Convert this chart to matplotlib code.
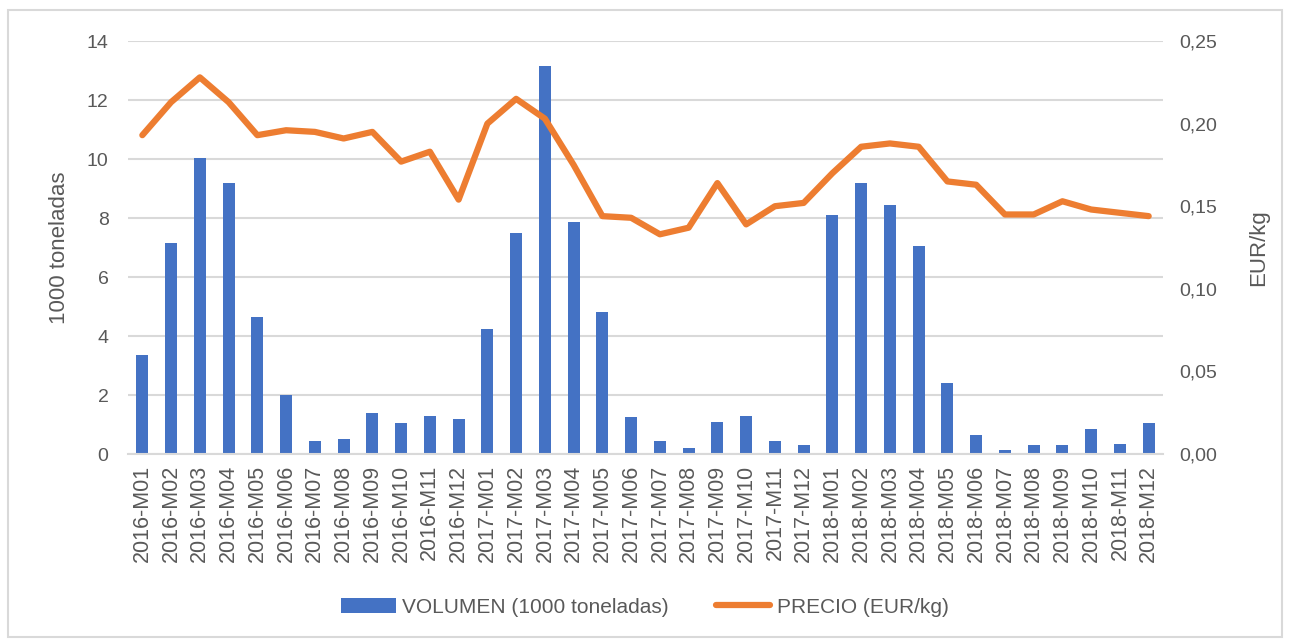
import matplotlib
matplotlib.use('Agg')
import matplotlib.pyplot as plt
from matplotlib.patches import Rectangle
from matplotlib.ticker import FuncFormatter

months = [f'{y}-M{m:02d}' for y in (2016, 2017, 2018) for m in range(1, 13)]

volumen = [3.35, 7.15, 10.05, 9.2, 4.65, 2.0, 0.45, 0.5, 1.4, 1.05, 1.3, 1.2,
           4.25, 7.5, 13.15, 7.85, 4.8, 1.25, 0.45, 0.2, 1.1, 1.3, 0.45, 0.3,
           8.1, 9.2, 8.45, 7.05, 2.4, 0.65, 0.15, 0.3, 0.3, 0.85, 0.35, 1.05]

precio = [0.193, 0.213, 0.228, 0.213, 0.193, 0.196, 0.195, 0.191, 0.195, 0.177, 0.183, 0.154,
          0.200, 0.215, 0.203, 0.175, 0.144, 0.143, 0.133, 0.137, 0.164, 0.139, 0.150, 0.152,
          0.170, 0.186, 0.188, 0.186, 0.165, 0.163, 0.145, 0.145, 0.153, 0.148, 0.146, 0.144]

BLUE = '#4472C4'
ORANGE = '#ED7D31'
GREY = '#595959'
GRID = '#D9D9D9'

plt.rcParams['font.family'] = ['Liberation Sans', 'DejaVu Sans']

fig = plt.figure(figsize=(12.9, 6.39), dpi=100)
ax = fig.add_axes([0.0992, 0.2895, 0.8024, 0.6463])
ax2 = ax.twinx()

x = list(range(len(months)))
bars = ax.bar(x, volumen, width=0.42, color=BLUE, zorder=2,
              label='VOLUMEN (1000 toneladas)')
line, = ax2.plot(x, precio, color=ORANGE, lw=4.5, solid_capstyle='round',
                 solid_joinstyle='round', label='PRECIO (EUR/kg)')

ax.set_xlim(-0.5, len(months) - 0.5)
ax.set_ylim(0, 14)
ax.set_yticks(range(0, 15, 2))
ax2.set_ylim(0, 0.25)
ax2.set_yticks([0, 0.05, 0.10, 0.15, 0.20, 0.25])
ax2.yaxis.set_major_formatter(FuncFormatter(lambda v, p: f'{v:.2f}'.replace('.', ',')))

ax.grid(axis='y', color=GRID, lw=1.5, zorder=0)
ax.set_axisbelow(True)
for a in (ax, ax2):
    for s in a.spines.values():
        s.set_visible(False)
    a.tick_params(length=0, colors=GREY, labelsize=14)
ax.spines['bottom'].set_visible(True)
ax.spines['bottom'].set_color(GRID)
ax.spines['bottom'].set_linewidth(1.5)

ax.set_xticks(x)
ax.set_xticklabels(months, rotation=90, fontsize=15.5)
ax.tick_params(axis='x', pad=8)
ax.tick_params(axis='y', pad=14)
ax2.tick_params(axis='y', pad=12)

ax.set_ylabel('1000 toneladas', color=GREY, fontsize=16, labelpad=12)
ax2.set_ylabel('EUR/kg', color=GREY, fontsize=16, labelpad=22)

fig.legend(handles=[bars, line], loc='center', bbox_to_anchor=(0.5, 0.05),
           ncol=2, frameon=False, fontsize=15, labelcolor=GREY,
           handlelength=2.6, handletextpad=0.3, columnspacing=2.3)

fig.patches.append(Rectangle((0.006, 0.003), 0.988, 0.982, transform=fig.transFigure,
                             fill=False, edgecolor=GRID, lw=1.5))

fig.savefig('out.png', dpi=100)
